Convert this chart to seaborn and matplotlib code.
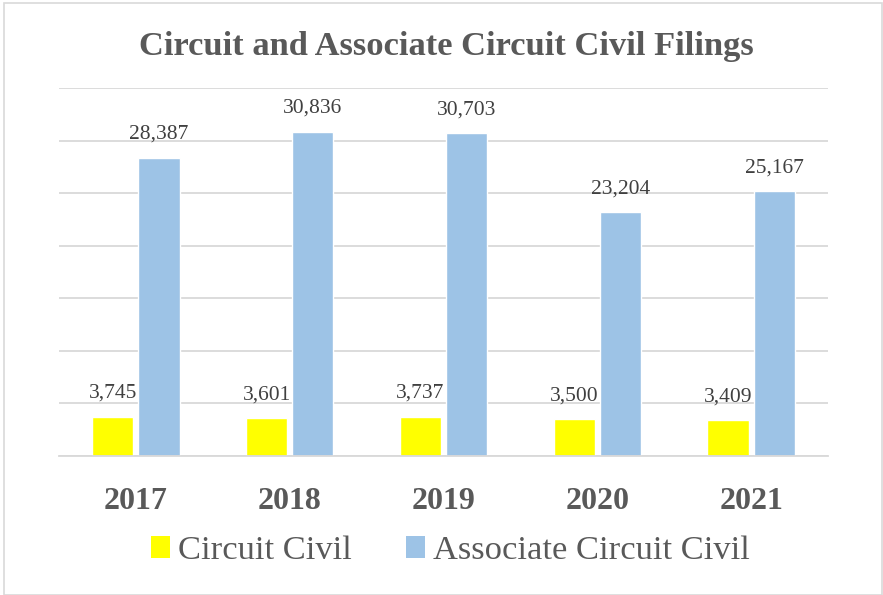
import matplotlib
matplotlib.use("Agg")
import matplotlib.pyplot as plt
import seaborn as sns
import pandas as pd
from matplotlib.patches import Patch, Rectangle

years = ["2017", "2018", "2019", "2020", "2021"]
circuit_civil = [3745, 3601, 3737, 3500, 3409]
associate_civil = [28387, 30836, 30703, 23204, 25167]
series = ["Circuit Civil", "Associate Circuit Civil"]
colors = ["#FFFF00", "#9DC3E6"]

df = pd.DataFrame({
    "Year": years * 2,
    "Filings": circuit_civil + associate_civil,
    "Series": [series[0]] * len(years) + [series[1]] * len(years),
})

sns.set_style("white")
plt.rcParams["font.family"] = ["Liberation Serif", "DejaVu Serif"]

fig = plt.figure(figsize=(8.83, 5.95), dpi=100)
ax = fig.add_axes([59/883, 1-456/595, (828-59)/883, (456-88)/595])

sns.barplot(data=df, x="Year", y="Filings", hue="Series", palette=colors,
            width=0.601, gap=0.108, ax=ax, legend=False, errorbar=None,
            saturation=1)

ax.set_ylim(0, 35000)
ax.set_yticks(range(0, 35001, 5000))
ax.yaxis.grid(True, color="#D9D9D9", linewidth=1.3)
ax.set_axisbelow(True)
for s in ["top", "right", "left"]:
    ax.spines[s].set_visible(False)
ax.spines["bottom"].set_color("#D9D9D9")
ax.spines["bottom"].set_linewidth(1.3)
ax.set_yticklabels([])
ax.tick_params(axis="y", length=0)
ax.tick_params(axis="x", length=0, pad=22)
ax.set_xlabel("")
ax.set_ylabel("")
for lbl in ax.get_xticklabels():
    lbl.set_fontsize(23)
    lbl.set_fontweight("bold")
    lbl.set_color("#595959")

for cont in ax.containers:
    ax.bar_label(cont, labels=[f"{int(v):,}" for v in cont.datavalues],
                 padding=10, fontsize=15.5, color="#404040")

fig.text(0.505, 1-47/595, "Circuit and Associate Circuit Civil Filings",
         ha="center", va="center", fontsize=24.8, fontweight="bold", color="#595959")

handles = [Patch(facecolor=c, edgecolor="none") for c in colors]
leg = fig.legend(handles, series, loc="center", bbox_to_anchor=(0.51, 1-551/595),
                 ncol=2, frameon=False, fontsize=24.8, handlelength=0.55, handleheight=0.58,
                 handletextpad=0.23, columnspacing=1.57, labelcolor="#595959")

fig.patches.append(Rectangle((4/883, 0), 878/883, 1-3/595, transform=fig.transFigure,
                             fill=False, edgecolor="#D9D9D9", linewidth=1.2))

fig.savefig("out.png", dpi=100)
